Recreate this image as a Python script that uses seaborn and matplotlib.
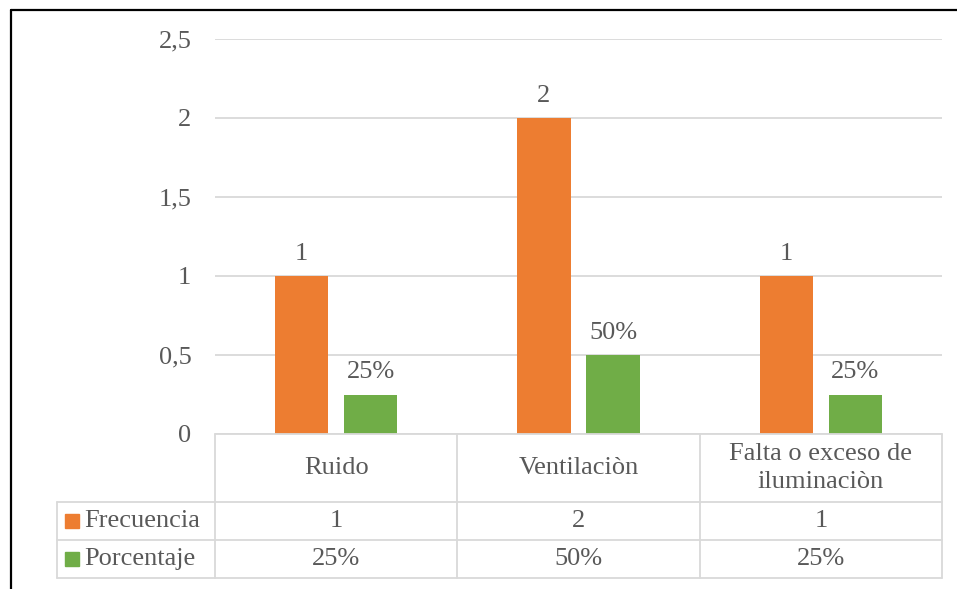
import pandas as pd
import seaborn as sns
import matplotlib.pyplot as plt
from matplotlib.lines import Line2D
from matplotlib.patches import Rectangle
from matplotlib.ticker import FuncFormatter
import matplotlib.transforms as mtransforms

categorias = ["Ruido", "Ventilaciòn", "Falta o exceso de\niluminaciòn"]
frecuencia = [1, 2, 1]
porcentaje = [0.25, 0.50, 0.25]
series = ["Frecuencia", "Porcentaje"]
colores = {"Frecuencia": "#ED7D31", "Porcentaje": "#70AD47"}
texto = "#595959"
gris = "#D9D9D9"

df = pd.DataFrame({
    "Categoria": categorias * 2,
    "Valor": frecuencia + porcentaje,
    "Serie": ["Frecuencia"] * 3 + ["Porcentaje"] * 3,
})

sns.set_theme(style="white")
plt.rcParams["font.family"] = ["Liberation Serif", "DejaVu Serif"]
plt.rcParams["font.size"] = 19

fig = plt.figure(figsize=(9.57, 5.89), dpi=100)
ax = fig.add_axes([215 / 957, 1 - 434 / 589, 727 / 957, 395 / 589])

sns.barplot(data=df, x="Categoria", y="Valor", hue="Serie", hue_order=series,
            palette=colores, width=0.57, gap=0.23, saturation=1, legend=False,
            linewidth=0, ax=ax)

ax.bar_label(ax.containers[0], labels=[str(v) for v in frecuencia],
             padding=8, color=texto, fontsize=19)
ax.bar_label(ax.containers[1], labels=[f"{round(v * 100)}%" for v in porcentaje],
             padding=8, color=texto, fontsize=19)

ax.set_xlim(-0.5, 2.5)
ax.set_ylim(0, 2.5)
ax.set_yticks([0, 0.5, 1, 1.5, 2, 2.5])
ax.yaxis.set_major_formatter(FuncFormatter(lambda v, p: f"{v:g}".replace(".", ",")))
ax.tick_params(axis="y", length=0, pad=17, labelsize=19, labelcolor=texto)
ax.set_xticks([])
ax.set_xlabel("")
ax.set_ylabel("")
ax.grid(axis="y", color=gris, linewidth=1.3)
ax.set_axisbelow(True)
for s in ax.spines.values():
    s.set_visible(False)

# tabla de datos debajo del grafico
tr = mtransforms.blended_transform_factory(ax.transData, ax.transAxes)
y_head = -68 / 395
y_frec = -106 / 395
y_porc = -144 / 395
x_left = -0.5 + (57 - 215) / (727 / 3)
lw = 1.3
bordes = [-0.5, 0.5, 1.5, 2.5]
for xb in bordes:
    ax.add_line(Line2D([xb, xb], [0, y_porc], transform=tr, color=gris, lw=lw, clip_on=False))
ax.add_line(Line2D([x_left, x_left], [y_head, y_porc], transform=tr, color=gris, lw=lw, clip_on=False))
ax.add_line(Line2D([-0.5, 2.5], [0, 0], transform=tr, color=gris, lw=lw, clip_on=False))
for yb in [y_head, y_frec, y_porc]:
    ax.add_line(Line2D([x_left, 2.5], [yb, yb], transform=tr, color=gris, lw=lw, clip_on=False))

for i, cat in enumerate(categorias):
    ax.text(i, y_head / 2, cat, transform=tr, ha="center", va="center",
            color=texto, fontsize=19, linespacing=1.4)
    ax.text(i, (y_head + y_frec) / 2, str(frecuencia[i]), transform=tr,
            ha="center", va="center", color=texto, fontsize=19)
    ax.text(i, (y_frec + y_porc) / 2, f"{round(porcentaje[i] * 100)}%", transform=tr,
            ha="center", va="center", color=texto, fontsize=19)

filas = [((y_head + y_frec) / 2, "Frecuencia"), ((y_frec + y_porc) / 2, "Porcentaje")]
for yc, nombre in filas:
    fig.patches.append(Rectangle((65 / 957, 0), 14 / 957, 14 / 589, color=colores[nombre],
                                 transform=fig.transFigure))
    fig.patches[-1].set_y(ax.transAxes.transform((0, yc))[1] / 589 - 7 / 589)
    ax.text(x_left + 27 / (727 / 3), yc, nombre, transform=tr, ha="left", va="center",
            color=texto, fontsize=19)

# borde negro superior e izquierdo
fig.add_artist(Line2D([11 / 957, 1], [1 - 10 / 589, 1 - 10 / 589], transform=fig.transFigure,
                      color="black", lw=1.6))
fig.add_artist(Line2D([11 / 957, 11 / 957], [1 - 10 / 589, 0], transform=fig.transFigure,
                      color="black", lw=1.6))

fig.savefig("out.png", dpi=100)
